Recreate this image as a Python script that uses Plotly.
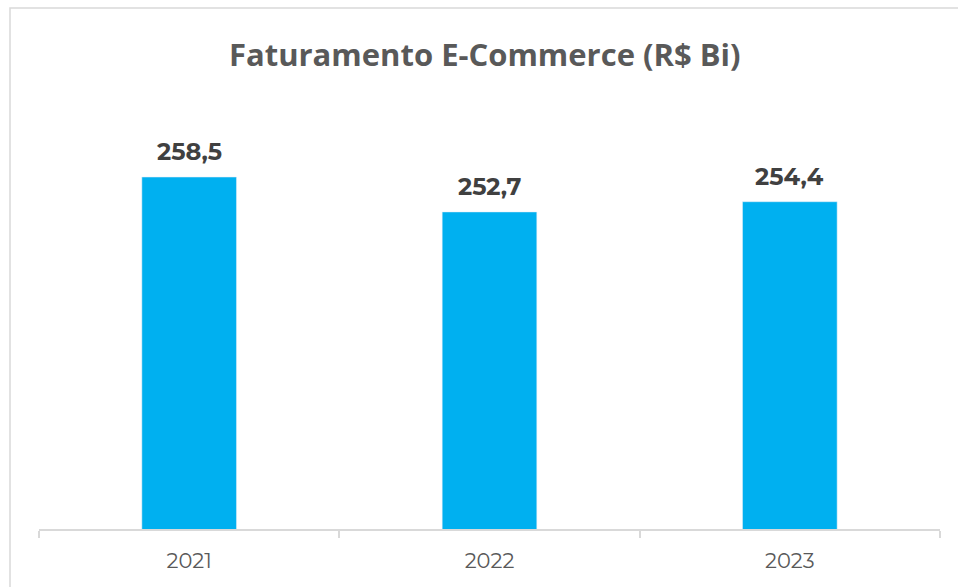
import plotly.graph_objects as go

anos = ["2021", "2022", "2023"]
faturamento = [258.5, 252.7, 254.4]
rotulos = [f"{v:.1f}".replace(".", ",") for v in faturamento]

W, H = 958, 587
L, R, T, B = 39, 18, 156, 58
pw, ph = W - L - R, H - T - B

fig = go.Figure()
fig.add_trace(go.Bar(x=anos, y=faturamento, marker_color="#00B0F0", width=0.315, hoverinfo="skip"))

# rotulos de dados (x como indice da categoria)
for i, (v, t) in enumerate(zip(faturamento, rotulos)):
    fig.add_annotation(x=i, y=v, xref="x", yref="y", text="<b>" + t + "</b>", showarrow=False,
                       yanchor="bottom", yshift=9,
                       font=dict(family="Montserrat, Open Sans", size=24, color="#404040"))

# moldura cinza do grafico
fig.add_shape(type="rect", xref="paper", yref="paper",
              x0=(10 - L) / pw, x1=(W + 5 - L) / pw,
              y0=-(B + 5) / ph, y1=(H - B - 8) / ph,
              line=dict(color="#d9d9d9", width=1.5), layer="below")

fig.update_layout(
    width=W, height=H,
    margin=dict(l=L, r=R, t=T, b=B),
    paper_bgcolor="white", plot_bgcolor="white",
    title=dict(text="<b>Faturamento E-Commerce (R$ Bi)</b>", x=0.506, xanchor="center",
               y=1 - 55 / H, yanchor="middle",
               font=dict(family="Open Sans", size=31, color="#595959")),
    showlegend=False,
    xaxis=dict(type="category", showline=True, linecolor="#d9d9d9", linewidth=1.5,
               ticks="outside", tickson="boundaries", ticklen=7, tickcolor="#d9d9d9", tickwidth=1.5,
               tickfont=dict(family="Montserrat, Open Sans", size=21, color="#595959"),
               ticklabelstandoff=12, range=[-0.5, 2.5]),
    yaxis=dict(visible=False, range=[200, 262], showgrid=False),
)

fig.write_html("out.html", config={"displayModeBar": False},
               post_script="document.body.style.margin='0';")
